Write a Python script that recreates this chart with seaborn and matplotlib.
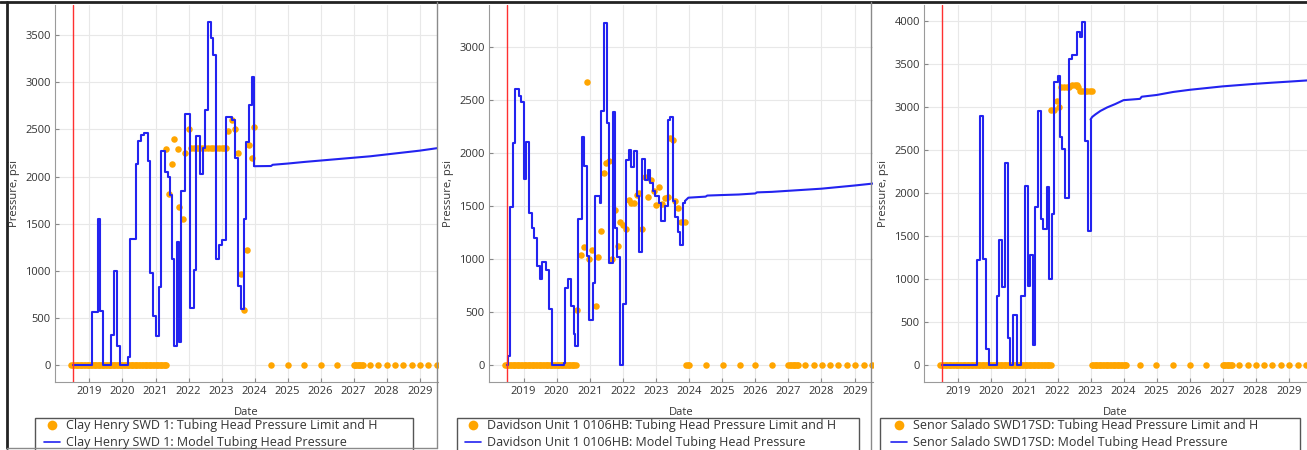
import numpy as np
import pandas as pd
import matplotlib
matplotlib.use("Agg")
import matplotlib.pyplot as plt
import matplotlib.dates as mdates
from matplotlib.lines import Line2D
from matplotlib.patches import Rectangle
import seaborn as sns

# ---------------- data (decimal years / psi) ----------------
wells = ["Clay Henry SWD 1", "Davidson Unit 1 0106HB", "Senor Salado SWD17SD"]

# Clay Henry SWD 1 - model tubing head pressure (history, step)
clay_hist_t = [2018.50, 2019.07, 2019.25, 2019.33, 2019.40, 2019.66, 2019.73, 2019.83, 2019.91,
               2020.16, 2020.23, 2020.41, 2020.48, 2020.56, 2020.66, 2020.76, 2020.83, 2020.92,
               2021.01, 2021.11, 2021.16, 2021.28, 2021.37, 2021.44, 2021.50, 2021.56, 2021.66,
               2021.72, 2021.78, 2021.90, 2022.03, 2022.17, 2022.24, 2022.35, 2022.45, 2022.51,
               2022.58, 2022.68, 2022.75, 2022.83, 2022.93, 2023.01, 2023.15, 2023.33, 2023.42,
               2023.49, 2023.59, 2023.69, 2023.74, 2023.82, 2023.91, 2023.99]
clay_hist_p = [0, 560, 1550, 570, 0, 320, 1000, 205, 0,
               85, 1340, 2135, 2380, 2440, 2460, 2160, 975, 520,
               310, 830, 2275, 2050, 1990, 1800, 1120, 200, 1310,
               240, 1850, 2660, 600, 1010, 2430, 2030, 2300, 2710,
               3640, 3470, 3290, 1125, 1270, 1330, 2630, 2600, 2200,
               840, 590, 1550, 2370, 2760, 3060, 2110]
# Clay Henry forecast
clay_fc_t = [2023.99, 2024.50, 2024.55, 2025.00, 2025.50, 2026.00, 2026.50, 2027.00,
             2027.50, 2028.00, 2028.50, 2029.00, 2029.60]
clay_fc_p = [2110, 2112, 2125, 2138, 2155, 2170, 2185, 2200, 2215, 2235, 2255, 2275, 2305]
# Clay Henry - tubing head pressure limit / history points
clay_zero_runs = [(2018.45, 2021.33), (2026.96, 2027.30)]
clay_pts_t = [2021.32, 2021.40, 2021.49, 2021.57, 2021.67, 2021.72, 2021.82, 2021.90, 2022.00,
              2022.08, 2022.17, 2022.25, 2022.33, 2022.42, 2022.50, 2022.58, 2022.67, 2022.75,
              2022.83, 2022.92, 2023.00, 2023.08, 2023.13,
              2023.21, 2023.31, 2023.42, 2023.50, 2023.58, 2023.67, 2023.76, 2023.84, 2023.91, 2023.99,
              2024.49, 2025.01, 2025.51, 2026.00, 2026.51, 2027.50, 2027.75, 2028.00, 2028.25,
              2028.50, 2028.76, 2029.01, 2029.26, 2029.51]
clay_pts_p = [2290, 1810, 2130, 2400, 2295, 1680, 1545, 2245, 2500,
              2300, 2300, 2300, 2300, 2300, 2300, 2300, 2300, 2300,
              2300, 2300, 2300, 2300, 2300,
              2480, 2600, 2505, 2245, 970, 580, 1220, 2335, 2200, 2525,
              0, 0, 0, 0, 0, 0, 0, 0, 0,
              0, 0, 0, 0, 0]

# Davidson Unit 1 0106HB
dav_hist_t = [2018.50, 2018.52, 2018.60, 2018.67, 2018.75, 2018.85, 2018.93, 2019.00, 2019.08,
              2019.15, 2019.25, 2019.32, 2019.40, 2019.50, 2019.57, 2019.68, 2019.76, 2019.86,
              2020.21, 2020.26, 2020.33, 2020.43, 2020.51, 2020.56, 2020.64, 2020.76, 2020.83,
              2020.91, 2020.99, 2021.11, 2021.16, 2021.30, 2021.35, 2021.42, 2021.52, 2021.58,
              2021.69, 2021.75, 2021.82, 2021.90, 2022.00, 2022.08, 2022.17, 2022.24, 2022.34,
              2022.42, 2022.50, 2022.58, 2022.68, 2022.76, 2022.83, 2022.91, 2022.98, 2023.08,
              2023.15, 2023.28, 2023.35, 2023.41, 2023.50, 2023.58, 2023.66, 2023.73, 2023.81,
              2023.88]
dav_hist_p = [0, 80, 1490, 2100, 2610, 2540, 2480, 1760, 2110,
              1440, 1290, 1200, 930, 810, 970, 900, 530, 0,
              20, 730, 810, 560, 290, 175, 1380, 2150, 1880,
              1030, 425, 775, 1600, 1530, 2400, 3230, 2290, 960,
              2390, 1290, 1020, 0, 580, 1935, 2035, 1870, 2020,
              1600, 1065, 1950, 1750, 1840, 1720, 1640, 1600, 1530,
              1360, 1500, 2310, 2340, 1550, 1400, 1260, 1130, 1530,
              1550]
dav_fc_t = [2023.88, 2023.98, 2024.50, 2024.55, 2025.00, 2025.50, 2026.00, 2026.05, 2026.50,
            2027.00, 2027.50, 2028.00, 2028.50, 2029.00, 2029.60]
dav_fc_p = [1550, 1580, 1590, 1600, 1605, 1610, 1620, 1630, 1635, 1645, 1655, 1665, 1680, 1695, 1715]
dav_zero_runs = [(2018.45, 2020.62), (2023.88, 2024.03), (2026.96, 2027.31)]
dav_pts_t = [2020.63, 2020.74, 2020.84, 2020.92, 2020.99, 2021.08, 2021.18, 2021.26, 2021.34,
             2021.42, 2021.50, 2021.59, 2021.67, 2021.75, 2021.84, 2021.92, 2022.00, 2022.08,
             2022.17, 2022.25, 2022.34, 2022.42, 2022.50, 2022.58, 2022.68, 2022.76, 2022.85,
             2022.93, 2023.01, 2023.09, 2023.18, 2023.26, 2023.35, 2023.43, 2023.51, 2023.59,
             2023.67, 2023.75, 2023.88,
             2024.51, 2025.01, 2025.53, 2026.00, 2026.50, 2027.51, 2027.76, 2028.01, 2028.26,
             2028.51, 2028.77, 2029.02, 2029.27, 2029.52]
dav_pts_p = [520, 1040, 1110, 2675, 1005, 1090, 555, 1015, 1270,
             1810, 1910, 1925, 1000, 1460, 1125, 1355, 1320, 1280,
             1560, 1530, 1530, 1605, 1620, 1280, 1780, 1590, 1745,
             1640, 1510, 1680, 1525, 1575, 1590, 2140, 2125, 1545,
             1480, 1355, 1355,
             0, 0, 0, 0, 0, 0, 0, 0, 0,
             0, 0, 0, 0, 0]

# Senor Salado SWD17SD
sen_hist_t = [2018.50, 2019.57, 2019.65, 2019.74, 2019.83, 2019.91, 2020.16, 2020.24, 2020.33,
              2020.41, 2020.49, 2020.56, 2020.64, 2020.76, 2020.91, 2021.01, 2021.09, 2021.17,
              2021.25, 2021.32, 2021.42, 2021.49, 2021.57, 2021.67, 2021.75, 2021.83, 2021.90,
              2022.00, 2022.07, 2022.15, 2022.22, 2022.34, 2022.45, 2022.58, 2022.68, 2022.75,
              2022.83, 2022.93, 2023.00]
sen_hist_p = [0, 1220, 2890, 1230, 180, 0, 800, 1450, 900,
              2350, 310, 0, 580, 0, 800, 2080, 920, 1280,
              230, 1840, 2950, 1700, 1580, 2070, 1000, 1750, 3290,
              3360, 2650, 2510, 1940, 3550, 3600, 3870, 3810, 3980,
              2600, 1560, 2850]
sen_fc_t = [2023.00, 2023.05, 2023.15, 2023.30, 2023.50, 2023.75, 2024.00, 2024.50, 2024.55,
            2025.00, 2025.50, 2026.00, 2026.50, 2027.00, 2027.50, 2028.00, 2028.50, 2029.00, 2029.60]
sen_fc_p = [2850, 2880, 2910, 2950, 2990, 3030, 3075, 3090, 3115,
            3135, 3170, 3195, 3215, 3235, 3250, 3265, 3278, 3290, 3305]
sen_zero_runs = [(2018.45, 2021.82), (2023.03, 2024.09), (2026.96, 2027.31)]
sen_pts_t = [2021.80, 2021.90, 2021.97, 2022.05, 2022.12, 2022.20, 2022.28, 2022.36, 2022.44,
             2022.52, 2022.58, 2022.63, 2022.68, 2022.75, 2022.83, 2022.90, 2022.97, 2023.05,
             2024.49, 2024.99, 2025.50, 2026.00, 2026.50, 2027.51, 2027.76, 2028.01, 2028.26,
             2028.51, 2028.77, 2029.02, 2029.27, 2029.52]
sen_pts_p = [2960, 2960, 3060, 3000, 3225, 3225, 3225, 3225, 3250,
             3250, 3250, 3225, 3180, 3180, 3180, 3180, 3180, 3180,
             0, 0, 0, 0, 0, 0, 0, 0, 0,
             0, 0, 0, 0, 0]

y_ticks = [list(range(0, 3501, 500)), list(range(0, 3001, 500)), list(range(0, 4001, 500))]
y_lims = [(-182, 3822), (-161, 3400), (-198, 4180)]
x_tick_years = list(range(2019, 2030))
x_lim_years = (2017.955, 2029.555)
start_year = 2018.5


# ---------------- helpers ----------------
def to_dt(years):
    years = np.atleast_1d(np.asarray(years, dtype=float))
    whole = np.floor(years).astype(int)
    base = pd.to_datetime([f"{y}-01-01" for y in whole])
    return base + pd.to_timedelta((years - whole) * 365.25, unit="D")


def monthly(runs):
    out = []
    for a, b in runs:
        out.append(pd.date_range(to_dt(a)[0], to_dt(b)[0], freq="SMS"))
    return out


sns.set_theme(style="white")
plt.rcParams["font.family"] = ["Open Sans", "DejaVu Sans"]

W, H = 1307, 450
fig = plt.figure(figsize=(W / 100, H / 100), dpi=100)

panels = [
    (clay_hist_t, clay_hist_p, clay_fc_t, clay_fc_p, clay_zero_runs, clay_pts_t, clay_pts_p),
    (dav_hist_t, dav_hist_p, dav_fc_t, dav_fc_p, dav_zero_runs, dav_pts_t, dav_pts_p),
    (sen_hist_t, sen_hist_p, sen_fc_t, sen_fc_p, sen_zero_runs, sen_pts_t, sen_pts_p),
]
ax_left = [55, 489, 924]
ax_right = [438, 873, 1307]
ax_top, ax_bot = 5, 382
leg_box = [(35, 413), (457, 859), (880, 1300)]
leg_x = [44, 465, 891]

ORANGE = "#FFA500"
BLUE = "#2323F0"
TXT = "#333333"

for i, (ht, hp, ft, fp, zr, pt, pp) in enumerate(panels):
    ax = fig.add_axes([ax_left[i] / W, 1 - ax_bot / H, (ax_right[i] - ax_left[i]) / W,
                       (ax_bot - ax_top) / H])
    # observed limit / history points
    zero_dates = monthly(zr)
    pts = pd.DataFrame({"Date": list(to_dt(pt)) + [d for z in zero_dates for d in z],
                        "Pressure": list(pp) + [0] * sum(len(z) for z in zero_dates)})
    sns.scatterplot(data=pts, x="Date", y="Pressure", color=ORANGE, s=22, linewidth=0,
                    ax=ax, zorder=3, legend=False)
    hist = pd.DataFrame({"Date": to_dt(ht), "Pressure": hp})
    sns.lineplot(data=hist, x="Date", y="Pressure", color=BLUE, lw=1.5, drawstyle="steps-post",
                 estimator=None, ax=ax, zorder=4, legend=False)
    fc = pd.DataFrame({"Date": to_dt(ft), "Pressure": fp})
    sns.lineplot(data=fc, x="Date", y="Pressure", color=BLUE, lw=1.5,
                 estimator=None, ax=ax, zorder=4, legend=False)
    ax.axvline(to_dt(start_year)[0], color="#ff3030", lw=1.0, zorder=5)

    ax.set_xlim(to_dt(x_lim_years[0])[0], to_dt(x_lim_years[1])[0])
    ax.set_ylim(*y_lims[i])
    ax.set_xticks(to_dt(x_tick_years))
    ax.xaxis.set_major_formatter(mdates.DateFormatter("%Y"))
    ax.set_yticks(y_ticks[i])
    ax.grid(True, color="#e8e8e8", lw=0.8)
    ax.tick_params(direction="in", length=3, width=0.8, color="#888888", labelsize=8,
                   labelcolor=TXT, pad=3, bottom=True, left=True)
    for s in ["top", "right"]:
        ax.spines[s].set_visible(False)
    for s in ["left", "bottom"]:
        ax.spines[s].set_color("#9a9a9a")
        ax.spines[s].set_linewidth(0.8)
    ax.set_xlabel("Date", fontsize=8, color=TXT, labelpad=7)
    ax.set_ylabel("Pressure, psi", fontsize=8, color=TXT, labelpad=4)

    # legend box and entries
    x0, x1 = leg_box[i]
    fig.add_artist(Rectangle((x0 / W, 1 - 452 / H), (x1 - x0) / W, 34 / H,
                             transform=fig.transFigure, facecolor="white",
                             edgecolor="#555555", lw=1.0, zorder=1))
    handles = [Line2D([], [], ls="none", marker="o", ms=7, color=ORANGE, mec="none"),
               Line2D([], [], color=BLUE, lw=1.2)]
    labels = [f"{wells[i]}: Tubing Head Pressure Limit and H",
              f"{wells[i]}: Model Tubing Head Pressure"]
    leg = fig.legend(handles, labels, loc="upper left",
                     bbox_to_anchor=(leg_x[i] / W, 1 - 419 / H), bbox_transform=fig.transFigure,
                     frameon=False, fontsize=9, handlelength=1.3, handletextpad=0.45,
                     borderpad=0.0, labelspacing=0.33, borderaxespad=0)
    for t in leg.get_texts():
        t.set_color(TXT)
    leg.set_zorder(2)

# panel borders
fig.add_artist(Line2D([0, 1], [1 - 1.5 / H, 1 - 1.5 / H], transform=fig.transFigure,
                      color="#222222", lw=2))
fig.add_artist(Line2D([7 / W, 7 / W], [1 - 2 / H, 1 - 448 / H], transform=fig.transFigure,
                      color="#222222", lw=2))
fig.add_artist(Line2D([437.5 / W, 437.5 / W], [1 - 2 / H, 1 - 448 / H], transform=fig.transFigure,
                      color="#8a8a8a", lw=1))
fig.add_artist(Line2D([7 / W, 437.5 / W], [1 - 448 / H, 1 - 448 / H], transform=fig.transFigure,
                      color="#8a8a8a", lw=1))
fig.add_artist(Line2D([871 / W, 871 / W], [1 - 2 / H, 0], transform=fig.transFigure,
                      color="#8a8a8a", lw=1))

fig.savefig("out.png", dpi=100)
